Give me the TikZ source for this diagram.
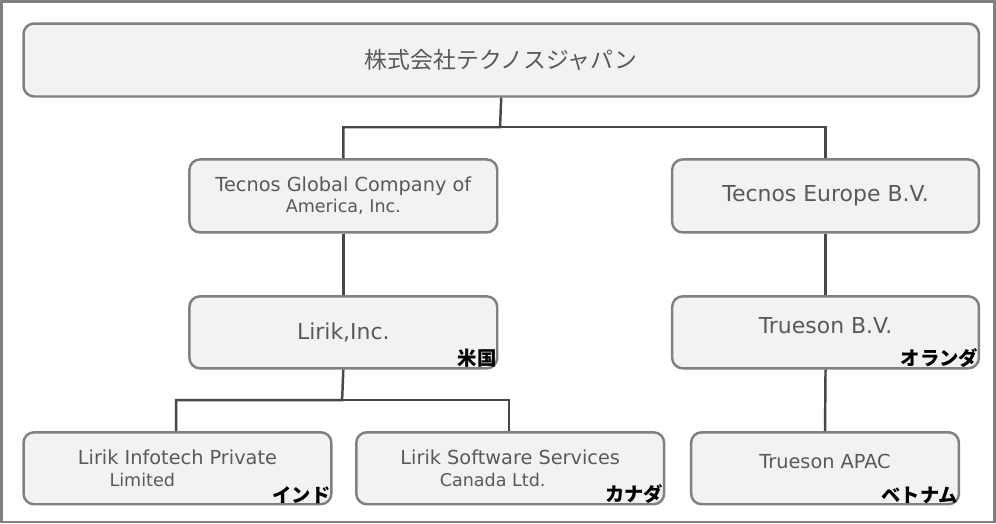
\documentclass[tikz,border=0pt]{standalone}
\usepackage{fontspec}
\setmainfont{DejaVu Sans}
\newfontfamily\cjk{Noto Sans CJK JP}
\usetikzlibrary{positioning}
\definecolor{Frame}{RGB}{128,128,128}
\definecolor{Fill}{RGB}{242,242,242}
\definecolor{Txt}{RGB}{89,89,89}
\tikzset{
  orgbox/.style={draw=Frame,fill=Fill,line width=1.4pt,rounded corners=6pt,
    text=Txt,align=center,inner sep=0pt},
  link/.style={draw=Txt!80!black,line width=1.4pt},
  country/.style={anchor=south east,font=\cjk\bfseries\fontsize{11}{12}\selectfont,inner sep=1pt}
}
\newcommand{\OrgBox}[6]{% name x1 y1 x2 y2 text
\node[orgbox,minimum width=#4*0.02cm-#2*0.02cm,minimum height=#5*0.02cm-#3*0.02cm,anchor=north west]
  (#1) at (#2,#3) {#6};
}
\begin{document}
\begin{tikzpicture}[x=0.02cm,y=-0.02cm]
\draw[Frame,line width=1.5pt,fill=white] (1,1) rectangle (995,522);
\OrgBox{top}{22}{22}{978}{95}{\cjk\fontsize{13}{16}\selectfont 株式会社テクノスジャパン}
\OrgBox{tgca}{188}{158}{496}{231}{\fontsize{11}{15}\selectfont Tecnos Global Company of\\America, Inc.}
\OrgBox{tebv}{671}{158}{978}{231}{\fontsize{12.5}{15}\selectfont Tecnos Europe B.V.}
\OrgBox{lirik}{188}{295}{496}{367}{\fontsize{12.5}{15}\selectfont Lirik,Inc.}
\OrgBox{tbv}{671}{295}{978}{367}{\raisebox{8pt}{\fontsize{12.5}{15}\selectfont Trueson B.V.}}
\OrgBox{lip}{22}{431}{330}{503}{\fontsize{11}{15}\selectfont Lirik Infotech Private\\Limited\hspace*{4em}}
\OrgBox{lss}{355}{431}{663}{503}{\fontsize{11}{15}\selectfont Lirik Software Services\\Canada Ltd.\hspace*{2em}}
\OrgBox{apac}{690}{431}{958}{503}{\raisebox{8pt}{\fontsize{11}{15}\selectfont Trueson APAC}}
% country labels
\node[country] (us) at (lirik.south east) {米国};
\node[country] (nl) at (tbv.south east) {オランダ};
\node[country] (in) at (lip.south east) {インド};
\node[country] (ca) at (lss.south east) {カナダ};
\node[country] (vn) at (apac.south east) {ベトナム};
% connectors
\coordinate (j1) at (500,127);
\coordinate (j2) at (342,400);
\draw[link] (top.south) -- (j1) -| (tgca.north);
\draw[link] (j1) -| (tebv.north);
\draw[link] (tgca.south) -- (lirik.north);
\draw[link] (tebv.south) -- (tbv.north);
\draw[link] (tbv.south) -- (apac.north);
\draw[link] (lirik.south) -- (j2) -| (176,431);
\draw[link] (j2) -| (509,431);
\end{tikzpicture}
\end{document}
